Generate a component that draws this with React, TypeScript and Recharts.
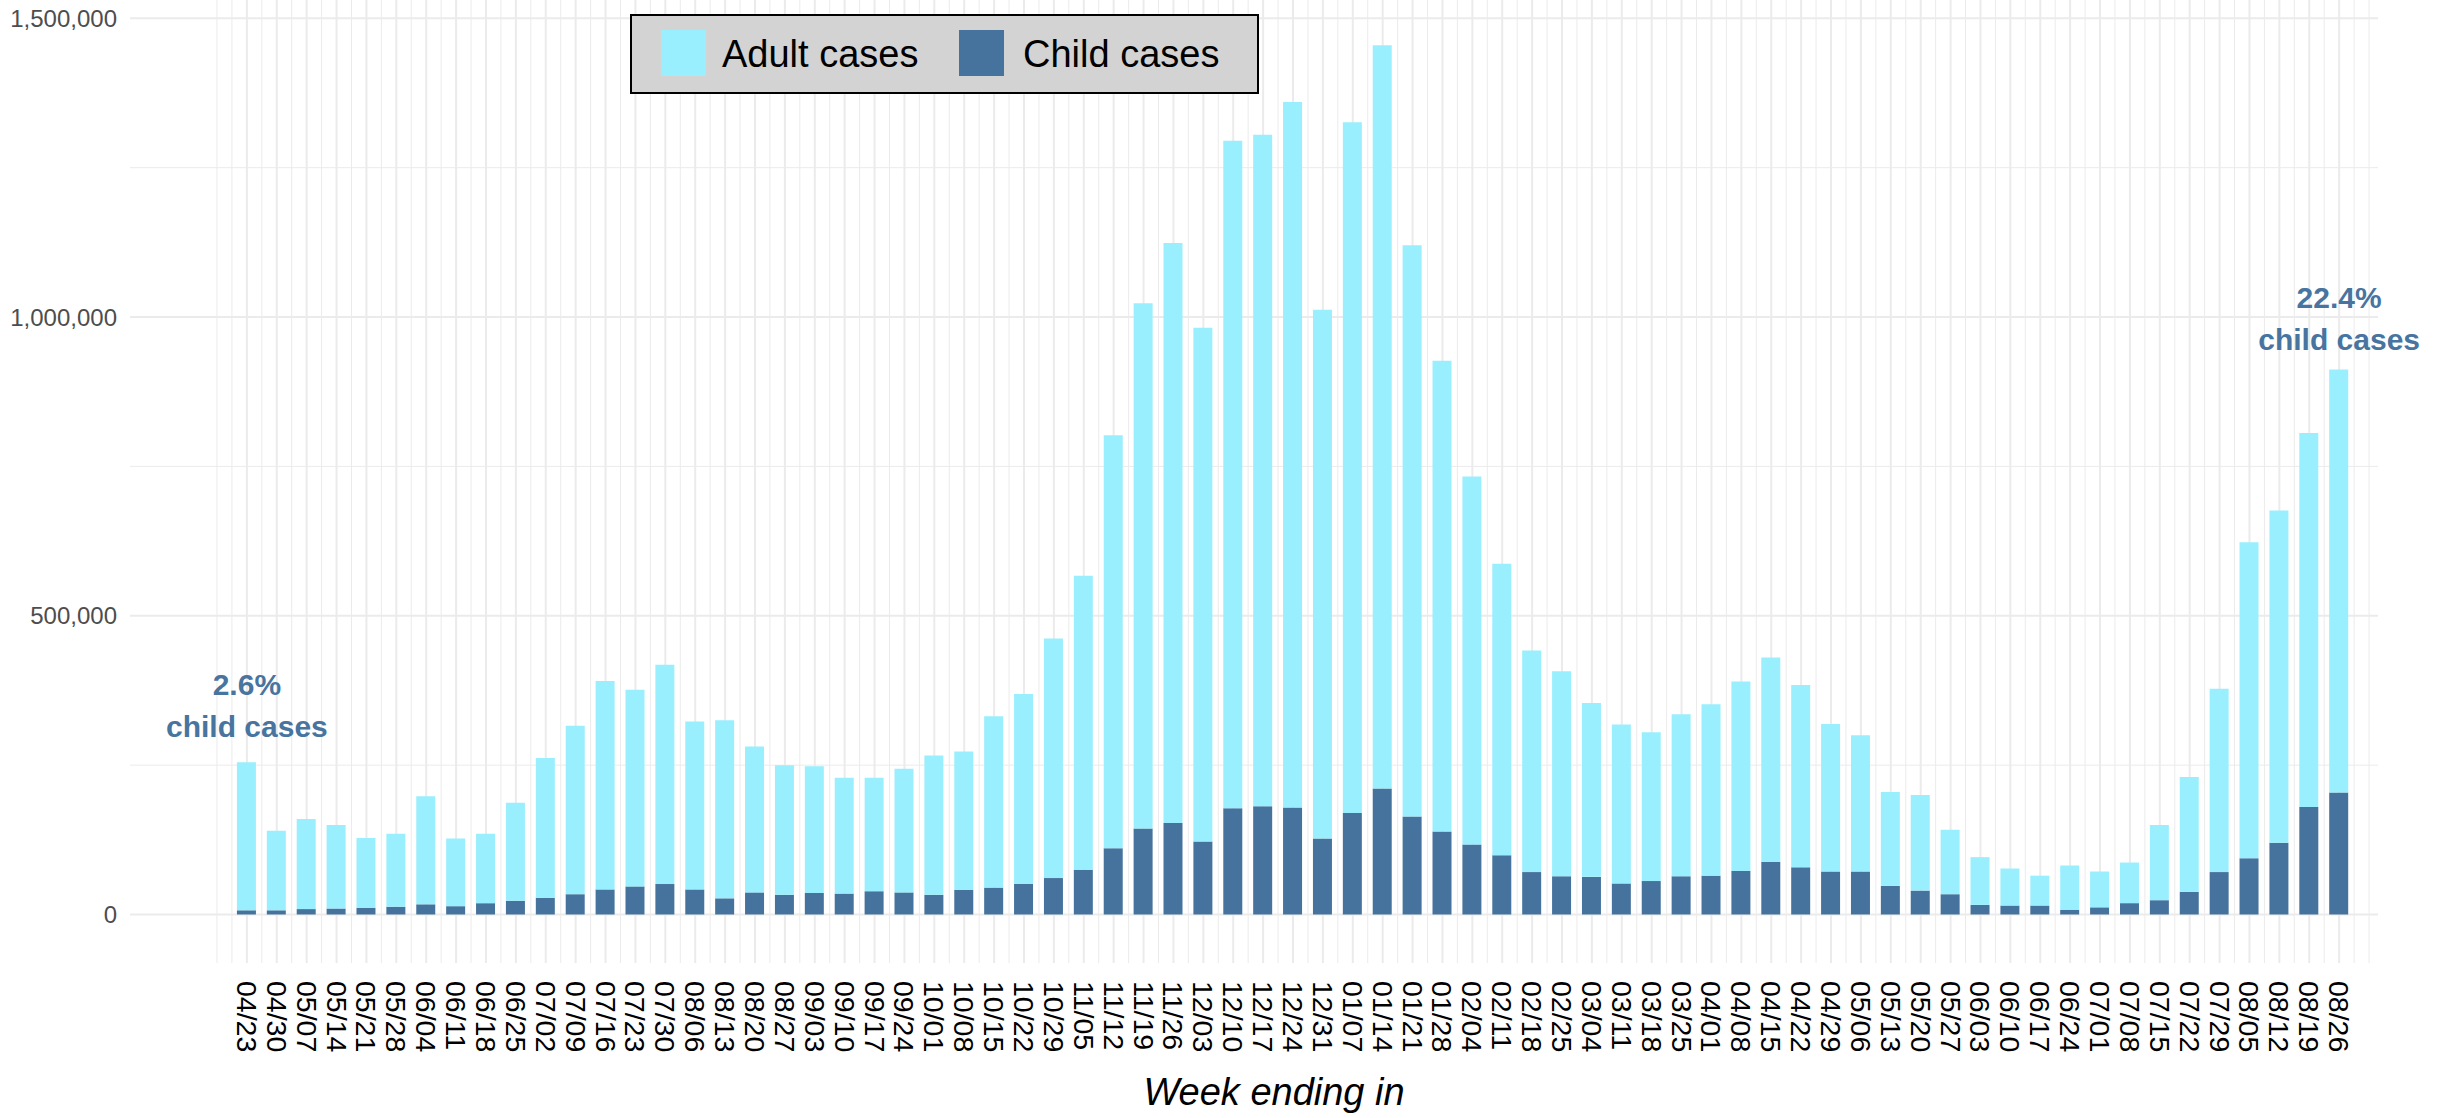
import React from 'react';
import { BarChart, Bar, XAxis, YAxis, CartesianGrid, ReferenceDot } from 'recharts';

const weeks = [
  '04/23', '04/30', '05/07', '05/14', '05/21', '05/28', '06/04', '06/11', '06/18', '06/25',
  '07/02', '07/09', '07/16', '07/23', '07/30', '08/06', '08/13', '08/20', '08/27', '09/03',
  '09/10', '09/17', '09/24', '10/01', '10/08', '10/15', '10/22', '10/29', '11/05', '11/12',
  '11/19', '11/26', '12/03', '12/10', '12/17', '12/24', '12/31', '01/07', '01/14', '01/21',
  '01/28', '02/04', '02/11', '02/18', '02/25', '03/04', '03/11', '03/18', '03/25', '04/01',
  '04/08', '04/15', '04/22', '04/29', '05/06', '05/13', '05/20', '05/27', '06/03', '06/10',
  '06/17', '06/24', '07/01', '07/08', '07/15', '07/22', '07/29', '08/05', '08/12', '08/19',
  '08/26',
];

const childCases = [
  7000, 7000, 9000, 10000, 11000, 13000, 17000, 14000, 19000, 23000,
  28000, 34000, 42000, 47000, 51000, 42000, 27000, 37000, 33000, 36000,
  35000, 39000, 37000, 33000, 41000, 45000, 51000, 61000, 75000, 111000,
  144000, 153000, 122000, 178000, 181000, 179000, 127000, 170000, 211000, 164000,
  139000, 117000, 99000, 71000, 64000, 63000, 52000, 56000, 64000, 65000,
  73000, 88000, 79000, 72000, 72000, 48000, 40000, 34000, 16000, 15000,
  15000, 8000, 12000, 19000, 24000, 38000, 71000, 94000, 120000, 180000,
  204000,
];

const adultCases = [
  248000, 133000, 151000, 140000, 117000, 122000, 181000, 113000, 116000, 164000,
  234000, 282000, 349000, 329000, 367000, 281000, 298000, 244000, 217000, 212000,
  194000, 190000, 207000, 233000, 232000, 287000, 318000, 401000, 492000, 691000,
  879000, 971000, 860000, 1117000, 1124000, 1181000, 885000, 1156000, 1244000, 956000,
  788000, 616000, 488000, 371000, 343000, 291000, 266000, 249000, 271000, 287000,
  317000, 342000, 305000, 247000, 228000, 157000, 160000, 108000, 80000, 62000,
  50000, 74000, 60000, 68000, 126000, 192000, 307000, 529000, 556000, 626000,
  708000,
];

const yTicks = [0, 500000, 1000000, 1500000];
const yMinorGrid = [250000, 750000, 1250000];
const annotations = [
  { idx: 0, value: 349000, lines: ['2.6%', 'child cases'] },
  { idx: 70, value: 998000, lines: ['22.4%', 'child cases'] },
];

const X_DOMAIN: [number, number] = [-3.91, 71.3];
const Y_DOMAIN: [number, number] = [-81175, 1530620];

const data = weeks.map((w, i) => ({ idx: i, week: w, child: childCases[i], adult: adultCases[i] }));
const xMajor = weeks.map((_, i) => i);
const xMinor: number[] = [];
for (let i = -1; i <= weeks.length; i++) {
  if (i === -1 || i === weeks.length) xMinor.push(i);
  if (i < weeks.length) xMinor.push(i + 0.5);
}

const FONT = '"Liberation Sans", Arial, Helvetica, sans-serif';
const CHILD_COLOR = '#45739D';
const ADULT_COLOR = '#9AEFFE';
const ANNO_COLOR = '#4874A0';
const GRID = '#EBEBEB';

const vGen = (vals: number[]) => (args: any) => {
  const s = args && args.xAxis && args.xAxis.scale;
  const off = args.offset;
  if (typeof s === 'function') return vals.map((v) => s(v));
  return vals.map((v) => off.left + ((v - X_DOMAIN[0]) / (X_DOMAIN[1] - X_DOMAIN[0])) * off.width);
};
const hGen = (vals: number[]) => (args: any) => {
  const s = args && args.yAxis && args.yAxis.scale;
  const off = args.offset;
  if (typeof s === 'function') return vals.map((v) => s(v));
  return vals.map((v) => off.top + ((Y_DOMAIN[1] - v) / (Y_DOMAIN[1] - Y_DOMAIN[0])) * off.height);
};

const XTick = (props: any) => {
  const { x, y, payload } = props;
  const label = weeks[payload.value];
  if (label === undefined) return null;
  return (
    <text
      transform={`translate(${x},${y}) rotate(90)`}
      textAnchor="start"
      dominantBaseline="central"
      fontSize={28.5}
      fontFamily={FONT}
      fill="#000"
    >
      {label}
    </text>
  );
};

const makeAnno = (lines: string[]) => (props: any) => {
  const vb = props.viewBox || {};
  const cx = (vb.x || 0) + (vb.width || 0) / 2;
  const cy = (vb.y || 0) + (vb.height || 0) / 2;
  return (
    <g>
      {lines.map((t, i) => (
        <text
          key={i}
          x={cx}
          y={cy + (i === 0 ? -21 : 21)}
          textAnchor="middle"
          dominantBaseline="central"
          fontSize={30}
          fontWeight="bold"
          fontFamily={FONT}
          fill={ANNO_COLOR}
        >
          {t}
        </text>
      ))}
    </g>
  );
};

export default function App() {
  return (
    <div style={{ position: 'relative', width: 2450, height: 1118, background: '#fff', overflow: 'hidden' }}>
      <style>{'body{margin:0;}'}</style>
      <BarChart
        width={2450}
        height={1118}
        data={data}
        margin={{ top: 0, right: 72, bottom: 0, left: 0 }}
      >
        <CartesianGrid
          stroke={GRID}
          strokeWidth={1}
          verticalCoordinatesGenerator={vGen(xMinor)}
          horizontalCoordinatesGenerator={hGen(yMinorGrid)}
        />
        <CartesianGrid
          stroke={GRID}
          strokeWidth={2}
          verticalCoordinatesGenerator={vGen(xMajor)}
          horizontalCoordinatesGenerator={hGen(yTicks)}
        />
        <XAxis
          dataKey="idx"
          type="number"
          domain={X_DOMAIN}
          allowDataOverflow
          ticks={xMajor}
          interval={0}
          tickLine={false}
          axisLine={false}
          tickSize={0}
          tickMargin={18}
          height={155}
          tick={<XTick />}
        />
        <YAxis
          type="number"
          domain={Y_DOMAIN}
          allowDataOverflow
          ticks={yTicks}
          interval={0}
          width={130}
          tickLine={false}
          axisLine={false}
          tickSize={0}
          tickMargin={13}
          tickFormatter={(v: number) => v.toLocaleString('en-US')}
          tick={{ fill: '#4D4D4D', fontSize: 24, fontFamily: FONT }}
        />
        <Bar dataKey="child" stackId="a" fill={CHILD_COLOR} barSize={19} isAnimationActive={false} />
        <Bar dataKey="adult" stackId="a" fill={ADULT_COLOR} barSize={19} isAnimationActive={false} />
        {annotations.map((a, i) => (
          <ReferenceDot
            key={i}
            x={a.idx}
            y={a.value}
            r={1}
            fill="none"
            stroke="none"
            label={makeAnno(a.lines)}
          />
        ))}
      </BarChart>

      <div
        style={{
          position: 'absolute',
          left: 630,
          top: 14,
          width: 629,
          height: 80,
          boxSizing: 'border-box',
          background: '#D3D3D3',
          border: '2px solid #000',
          fontFamily: FONT,
        }}
      >
        <div style={{ position: 'absolute', left: 29, top: 14, width: 45, height: 46, background: ADULT_COLOR }} />
        <div style={{ position: 'absolute', left: 90, top: 0, height: 76, lineHeight: '76px', fontSize: 38, color: '#000', whiteSpace: 'nowrap' }}>
          Adult cases
        </div>
        <div style={{ position: 'absolute', left: 327, top: 14, width: 45, height: 46, background: CHILD_COLOR }} />
        <div style={{ position: 'absolute', left: 391, top: 0, height: 76, lineHeight: '76px', fontSize: 38, color: '#000', whiteSpace: 'nowrap' }}>
          Child cases
        </div>
      </div>

      <div
        style={{
          position: 'absolute',
          left: 1274 - 300,
          width: 600,
          top: 1070,
          lineHeight: '44px',
          textAlign: 'center',
          fontFamily: FONT,
          fontStyle: 'italic',
          fontSize: 38,
          color: '#000',
        }}
      >
        Week ending in
      </div>
    </div>
  );
}
